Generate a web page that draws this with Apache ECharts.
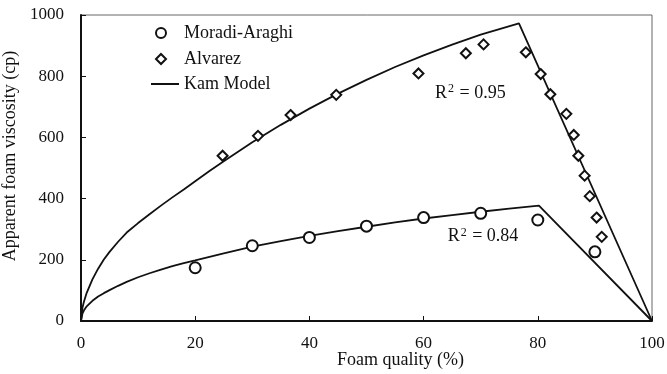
<!DOCTYPE html>
<html>
<head>
<meta charset="utf-8">
<script src="https://cdn.jsdelivr.net/npm/echarts@6/dist/echarts.min.js"></script>
<style>
  html, body { margin: 0; padding: 0; background: #fff; }
  #chart { width: 667px; height: 374px; }
</style>
</head>
<body>
<div id="chart"></div>
<script>
// Measured apparent foam viscosity (cp) versus foam quality (%)
const moradiQuality = [20, 30, 40, 50, 60, 70, 80, 90];
const moradiViscosity = [174, 246, 273, 310, 338, 352, 330, 226];

const alvarezQuality = [24.8, 31.0, 36.7, 44.7, 59.1, 67.4, 70.5, 77.9, 80.5, 82.2, 85.0, 86.3, 87.1, 88.2, 89.1, 90.3, 91.2];
const alvarezViscosity = [540, 605, 673, 739, 809, 875, 904, 878, 807, 741, 677, 608, 540, 475, 408, 338, 275];

// Kam model curves (fit to each data set)
const kamUpperQuality = [0, 0.25, 0.5, 1, 2, 3, 4, 5, 6.5, 8, 10, 12, 14, 16, 18, 20, 22.5, 25, 27.5, 30, 35, 40, 45, 50, 55, 60, 65, 70, 76.7, 100];
const kamUpperViscosity = [0, 43, 62, 92, 136, 171, 201, 226, 259, 289, 320, 349, 377, 404, 430, 457, 490, 522, 553, 584, 641, 694, 743, 788, 830, 868, 903, 936, 973, 0];

const kamLowerQuality = [0, 0.25, 0.5, 1, 2, 3, 4, 5, 6.5, 8, 10, 12, 14, 16, 18, 20, 25, 30, 35, 40, 45, 50, 55, 60, 65, 70, 75, 80.2, 100];
const kamLowerViscosity = [0, 24, 34, 48, 66, 80, 91, 101, 115, 128, 143, 156, 168, 179, 189, 198, 221, 243, 261, 278, 294, 308, 322, 335, 346, 357, 367, 377, 0];

// Goodness-of-fit annotations
const fitLabels = [
  { text: '0.95', at: [68.2, 745] },
  { text: '0.84', at: [70.4, 276] }
];

const pairs = (xs, ys) => xs.map((x, i) => [x, ys[i]]);

const FONT = '"Liberation Serif", "Times New Roman", serif';
const INK = '#111';

const chart = echarts.init(document.getElementById('chart'), null, { renderer: 'canvas' });

const option = {
  animation: false,
  backgroundColor: '#fff',
  textStyle: { fontFamily: FONT, color: INK },
  grid: {
    left: 81, right: 15, top: 15, bottom: 53,
    containLabel: false, outerBoundsMode: 'none',
    show: true, borderColor: '#666', borderWidth: 1
  },
  legend: [
    {
      orient: 'vertical',
      left: 155, top: 24, padding: 0,
      itemWidth: 10, itemHeight: 10, itemGap: 8,
      textStyle: { fontFamily: FONT, fontSize: 18, color: INK, padding: [0, 0, 0, 13] },
      data: ['Moradi-Araghi', 'Alvarez']
    },
    {
      orient: 'vertical',
      left: 151, top: 75, padding: 0,
      itemWidth: 28, itemHeight: 2,
      icon: 'rect',
      textStyle: { fontFamily: FONT, fontSize: 18, color: INK },
      data: ['Kam Model']
    }
  ],
  xAxis: {
    type: 'value', min: 0, max: 100, interval: 20,
    name: 'Foam quality (%)', nameLocation: 'middle', nameGap: 30, nameMoveOverlap: false,
    nameTextStyle: { fontFamily: FONT, fontSize: 18, color: INK, padding: [0, 0, 0, 68] },
    axisLine: { lineStyle: { color: INK, width: 2 } },
    axisTick: { inside: true, length: 5, lineStyle: { color: INK, width: 1 } },
    axisLabel: { fontFamily: FONT, fontSize: 17, color: INK, margin: 14 },
    splitLine: { show: false }
  },
  yAxis: {
    type: 'value', min: 0, max: 1000, interval: 200,
    name: 'Apparent foam viscosity (cp)', nameLocation: 'middle', nameGap: 45,
    nameTextStyle: { fontFamily: FONT, fontSize: 18, color: INK, padding: [0, 0, 0, 24] },
    axisLine: { show: true, lineStyle: { color: INK, width: 2 } },
    axisTick: { show: true, inside: true, length: 5, lineStyle: { color: INK, width: 1 } },
    axisLabel: { fontFamily: FONT, fontSize: 17, color: INK, margin: 17, formatter: v => String(v) },
    splitLine: { show: false }
  },
  series: [
    {
      name: 'Kam Model', type: 'line', data: pairs(kamUpperQuality, kamUpperViscosity),
      showSymbol: false, symbol: 'none', lineStyle: { color: INK, width: 1.8 }, itemStyle: { color: INK },
      z: 2,
      markPoint: {
        symbol: 'circle', symbolSize: 0,
        label: {
          show: true, position: 'inside',
          formatter: p => '{r|R}{s|2}{r| = ' + p.name + '}',
          rich: {
            r: { fontFamily: FONT, fontSize: 18, color: INK },
            s: { fontFamily: FONT, fontSize: 12, color: INK, verticalAlign: 'top', padding: [0, 1, 8, 1] }
          }
        },
        data: fitLabels.map(f => ({ name: f.text, coord: f.at }))
      }
    },
    {
      name: 'Kam Model', type: 'line', data: pairs(kamLowerQuality, kamLowerViscosity),
      showSymbol: false, symbol: 'none', lineStyle: { color: INK, width: 1.8 }, itemStyle: { color: INK },
      z: 2
    },
    {
      name: 'Moradi-Araghi', type: 'scatter', data: pairs(moradiQuality, moradiViscosity),
      symbol: 'emptyCircle', symbolSize: 11,
      itemStyle: { color: INK, borderColor: INK, borderWidth: 1.3, opacity: 1 }, z: 3
    },
    {
      name: 'Alvarez', type: 'scatter', data: pairs(alvarezQuality, alvarezViscosity),
      symbol: 'emptyDiamond', symbolSize: 10,
      itemStyle: { color: INK, borderColor: INK, borderWidth: 1.3, opacity: 1 }, z: 3
    }
  ]
};

chart.setOption(option);
</script>
</body>
</html>
